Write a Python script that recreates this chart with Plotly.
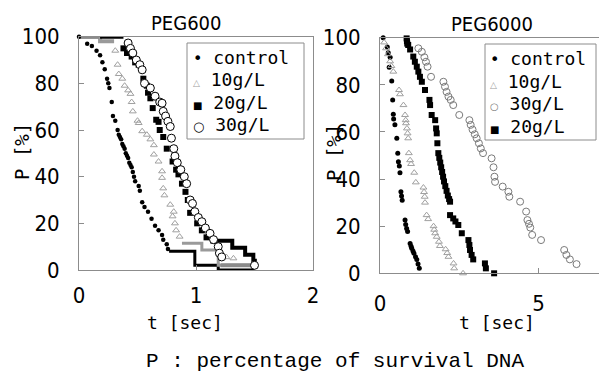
import plotly.graph_objects as go

# ---------------- data: PEG600 (left) ----------------
a_ctrl_t = [0.00,0.07,0.11,0.15,0.18,0.20,0.22,0.24,0.25,0.26,0.28,0.29,0.31,0.33,0.34,
            0.35,0.36,0.37,0.38,0.39,0.40,0.41,0.42,0.43,0.44,0.45,0.46,0.47,0.48,0.51,
            0.52,0.54,0.56,0.59,0.62,0.65,0.68,0.71,0.72,0.75,0.76]
a_ctrl_p = [100,97,96,94,92,89,86,82,80,78,72,66,64,60,58,
            57,56,54,53,52,50,49,48,46,45,44,42,40,38,36,
            34,29,27,25,22,19,17,15,13,11,9]
a_ctrl_tail_t = [0.77,0.99,1.19,1.50]
a_ctrl_tail_p = [8,2,0,0]

a_10_t = [0.31,0.33,0.34,0.37,0.39,0.42,0.44,0.45,0.46,0.50,0.51,0.54,0.58,0.61,0.64,
          0.64,0.68,0.71,0.71,0.72,0.73,0.78,0.80,0.81,0.82,0.83,0.86,1.26,1.32]
a_10_p = [94,88,84,82,79,77,75.5,72,68,64,63,59.5,58,56,53.5,
          49.5,46.5,42.3,39.5,35,32,28,23,25,20,17,14.3,5.5,5]
a_10_head_t = [0.00,0.18,0.30]
a_10_head_p = [100,98,98]
a_10_tail_t = [0.88,1.05,1.19,1.49]
a_10_tail_p = [11.5,8.6,2,2]

a_20_t = [0.38,0.41,0.45,0.48,0.51,0.55,0.58,0.59,0.61,0.63,0.66,0.68,0.69,0.72,0.75,
          0.80,0.83,0.85,0.88,0.91,0.93,0.95,1.01,1.05,1.09,1.15]
a_20_p = [95,93,91.5,89,88,82,79,76,73.6,69.4,64.4,63.5,60,57,52,
          46.5,43,41,37,33.5,30,24.5,20,17,14,12.5]
a_20_head_t = [0.18,0.38]
a_20_head_p = [100,100]
a_20_tail_t = [1.16,1.31,1.42,1.49,1.52]
a_20_tail_p = [12.5,9.5,6.5,4,4]

a_30_t = [0.42,0.44,0.46,0.49,0.52,0.54,0.56,0.61,0.65,0.69,0.71,0.72,0.74,0.76,0.78,
          0.79,0.81,0.82,0.84,0.87,0.90,0.92,0.95,0.97,0.99,1.02,1.05,1.08,1.12,1.15,
          1.19,1.20,1.22,1.50]
a_30_p = [97.3,95,93,90,88,85.8,80,78,74.5,72,71.5,68,66,63.7,61.5,
          56.5,52,48.8,46,43,40,37,30,28.5,25,22.5,20.7,18,15.7,13,
          10,7.2,5.6,2]
a_30_head_t = [0.00,0.17]
a_30_head_p = [100,100]
a_30_tail_t = [1.21,1.48]
a_30_tail_p = [2,2]

# ---------------- data: PEG6000 (right) ----------------
b_ctrl_t = [0.10,0.23,0.26,0.32,0.29,0.37,0.40,0.42,0.43,0.47,0.53,0.56,0.58,0.61,0.63,
            0.66,0.68,0.70,0.79,0.81,0.84,0.87,0.95,0.98,1.00,1.04,1.07,1.12,1.16,1.20,1.24]
b_ctrl_p = [100,96,93.6,91.7,87.5,81.6,73.6,67.5,65.5,63,57.3,51,47.4,45.5,42.7,
            34.6,32.8,31,22.6,20.7,19,17.7,12.7,11.5,10.6,9.5,8.5,7,5.9,4,2.1]

b_10_t = [0.13,0.19,0.25,0.32,0.36,0.42,0.60,0.63,0.74,0.79,0.81,0.82,0.85,0.87,0.89,
          0.91,0.95,0.98,1.08,1.13,1.37,1.39,1.41,1.42,1.47,1.52,1.69,1.71,1.74,1.79,
          1.86,1.89,2.07,2.12,2.16,2.32,2.34,2.62]
b_10_p = [98,95.5,93,90,88,85.6,77.8,76,71.4,67.2,65,63.7,61.5,59.4,57.3,
          51,48,46.4,42.7,38.6,36.4,34.5,32.5,30,24.7,23,20,18.5,17,15.5,
          13.4,11.6,10.2,8.6,7,4.2,2.1,0]

b_30_t = [1.21,1.32,1.40,1.45,1.50,1.61,2.00,2.05,2.10,2.16,2.23,2.31,2.50,2.82,2.86,
          2.92,2.99,3.05,3.12,3.18,3.25,3.52,3.58,3.61,3.63,3.87,4.05,4.08,4.42,4.61,
          4.65,4.70,4.74,4.80,5.08,5.81,5.88,5.99,6.20]
b_30_p = [95.5,94,91.7,89.8,87.7,83.4,81.3,79.2,77,75,73.6,71.4,67.2,65,63,
          61,59,57.3,55.2,53,51,48.8,45,41,38.8,36.8,34.6,32.5,30.4,26.2,
          22.6,21,19.4,16.3,14.1,9.9,7.8,5.9,3.9]

b_20_t = [0.84,0.85,0.86,0.89,0.95,1.05,1.10,1.16,1.21,1.26,1.32,1.42,1.56,1.58,1.63,
          1.74,1.77,1.79,1.81,1.84,1.87,1.90,1.93,1.96,1.99,2.02,2.06,2.10,2.14,2.18,
          2.21,2.21,2.31,2.38,2.47,2.58,2.79,2.82,2.84,2.89,2.94,3.31,3.34,3.60]
b_20_p = [99.7,98.5,97.5,96.9,95,92,89.8,87.7,85.6,83.4,81.3,77.8,73.6,71.4,67.2,
          65,61.5,59.4,55.2,51,49,47,45,43,41,39,37,35,33,31.5,
          30.4,24.7,23.3,22,20.5,17,14.1,12,9.9,7.8,5.9,4.2,2.1,0]

ticks_a_x = [0, 1, 2]
ticks_b_x = [0, 5]
ticks_y = [0, 20, 40, 60, 80, 100]

GRAY_T = "#a0a0a0"
GRAY_C = "#7a7a7a"
AX = "#8c8c8c"
TICKFONT = dict(family="DejaVu Sans Condensed, DejaVu Sans", size=22, color="black")
MONO = "DejaVu Sans Mono"

fig = go.Figure()

def pts(x, y, xa, ya, symbol, size, color, fill, lw=1):
    fig.add_trace(go.Scatter(
        x=x, y=y, xaxis=xa, yaxis=ya, mode="markers", showlegend=False,
        cliponaxis=False,
        marker=dict(symbol=symbol, size=size, color=fill,
                    line=dict(color=color, width=lw))))

def step(x, y, xa, ya, color, w):
    fig.add_trace(go.Scatter(
        x=x, y=y, xaxis=xa, yaxis=ya, mode="lines", showlegend=False,
        cliponaxis=False, line=dict(color=color, width=w, shape="hv")))

# left panel
step(a_10_head_t, a_10_head_p, "x", "y", "#9a9a9a", 4)
step(a_30_head_t, a_30_head_p, "x", "y", "#8a8a8a", 4)
step(a_20_head_t, a_20_head_p, "x", "y", "black", 4)
step(a_ctrl_tail_t, a_ctrl_tail_p, "x", "y", "black", 3)
step(a_20_tail_t, a_20_tail_p, "x", "y", "black", 4)
step(a_10_tail_t, a_10_tail_p, "x", "y", "#9a9a9a", 3)
step(a_30_tail_t, a_30_tail_p, "x", "y", "#8a8a8a", 4)
pts(a_ctrl_t, a_ctrl_p, "x", "y", "circle", 4.5, "black", "black", 0)
pts(a_10_t, a_10_p, "x", "y", "triangle-up-open", 6, GRAY_T, GRAY_T, 1)
pts(a_20_t, a_20_p, "x", "y", "square", 6, "black", "black", 0)
pts(a_30_t, a_30_p, "x", "y", "circle", 8, "black", "white", 1)

# right panel
pts(b_ctrl_t, b_ctrl_p, "x2", "y2", "circle", 5, "black", "black", 0)
pts(b_10_t, b_10_p, "x2", "y2", "triangle-up-open", 6, GRAY_T, GRAY_T, 1)
pts(b_30_t, b_30_p, "x2", "y2", "circle-open", 7, GRAY_C, GRAY_C, 1)
pts(b_20_t, b_20_p, "x2", "y2", "square", 6, "black", "black", 0)

W, H = 599, 376
def px(x): return x / W
def py(y): return 1 - y / H

common_x = dict(showgrid=False, zeroline=False, showline=True, linecolor=AX, linewidth=1,
                ticks="inside", ticklen=5, tickcolor=AX, tickfont=TICKFONT, automargin=False)
common_y = dict(showgrid=False, zeroline=False, showline=True, linecolor=AX, linewidth=1,
                ticks="inside", ticklen=5, tickcolor=AX, tickfont=TICKFONT, automargin=False,
                tickvals=ticks_y, range=[0, 100], ticklabelstandoff=14)

fig.update_layout(
    width=W, height=H, margin=dict(l=0, r=0, t=0, b=0, pad=0, autoexpand=False),
    paper_bgcolor="white", plot_bgcolor="white", showlegend=False,
    xaxis=dict(common_x, domain=[px(79), px(313)], range=[0, 2], tickvals=ticks_a_x,
               mirror=True, anchor="y", ticklabelstandoff=6),
    yaxis=dict(common_y, domain=[py(270), py(36.7)], mirror=True, anchor="x"),
    xaxis2=dict(common_x, domain=[px(380), 1.0], range=[0, (W - 380) / 31.7],
                tickvals=ticks_b_x, mirror=True, anchor="y2", ticklabelstandoff=10),
    yaxis2=dict(common_y, domain=[py(273.3), py(37.7)], mirror=False, anchor="x2"),
)

ann = []
def text(x, y, s, size, family=MONO, color="black", xanchor="center", angle=0):
    ann.append(dict(x=px(x), y=py(y), xref="paper", yref="paper", text=s, showarrow=False,
                    xanchor=xanchor, yanchor="middle", textangle=angle,
                    font=dict(family=family, size=size, color=color)))

text(186.5, 23, "PEG600", 20, "DejaVu Sans Condensed, DejaVu Sans")
text(492, 23.5, "PEG6000", 20, "DejaVu Sans Condensed, DejaVu Sans")
text(185, 322, "t [sec]", 18)
text(497, 322, "t [sec]", 18)
text(22, 152, "P [%]", 19, angle=-90)
text(334, 153, "P [%]", 19, angle=-90)
text(335, 361, "P : percentage of survival DNA", 21, "Liberation Mono")

def key(g, c, s, lab):
    return ("<span style='font-family:DejaVu Sans;font-size:%dpx;color:%s'>%s</span> %s"
            % (s, c, g, lab))

legend_a = [("•", "black", 16, "control"), ("△", GRAY_T, 9, "10g/L"),
            ("■", "black", 10, "20g/L"), ("○", "black", 13, "30g/L")]
legend_b = [("•", "black", 16, "control"), ("△", GRAY_T, 9, "10g/L"),
            ("○", GRAY_C, 10, "30g/L"), ("■", "black", 10, "20g/L")]
rows = [57, 80, 102.5, 125]
for (g, c, s, lab), yy in zip(legend_a, rows):
    text(191, yy, key(g, c, s, lab), 18, xanchor="left")
for (g, c, s, lab), yy in zip(legend_b, rows):
    text(488, yy + 1, key(g, c, s, lab), 18, xanchor="left")
fig.update_layout(annotations=ann)

fig.add_shape(type="rect", xref="paper", yref="paper", x0=px(187), x1=px(304),
              y0=py(139), y1=py(43), line=dict(color=AX, width=1))
fig.add_shape(type="rect", xref="paper", yref="paper", x0=px(485), x1=px(596),
              y0=py(140), y1=py(44), line=dict(color=AX, width=1))

fig.write_html("out.html")
